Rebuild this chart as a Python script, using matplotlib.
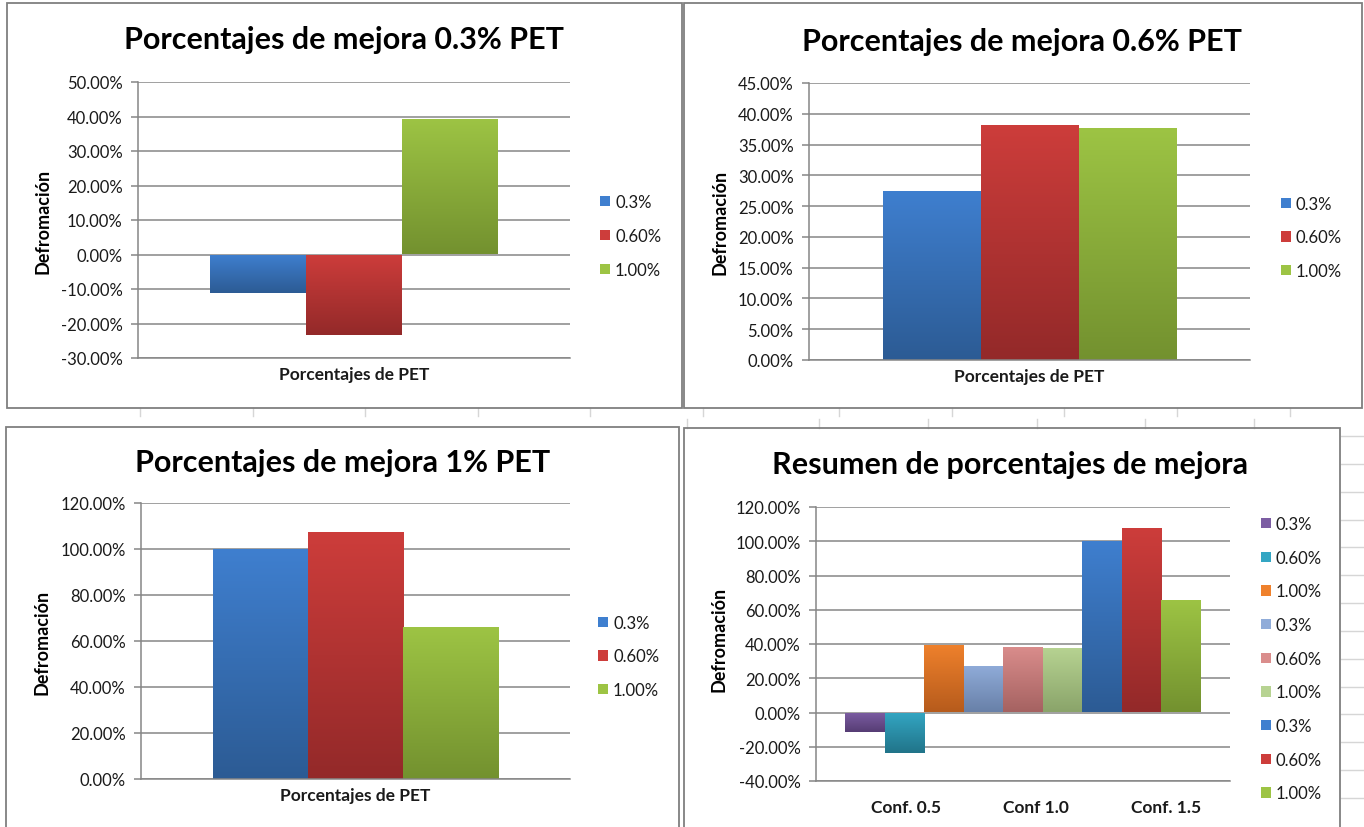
import numpy as np
import matplotlib
matplotlib.use("Agg")
import matplotlib.pyplot as plt
from matplotlib.colors import LinearSegmentedColormap
from matplotlib.patches import Rectangle
from matplotlib.lines import Line2D
from matplotlib.ticker import FuncFormatter

# ---------------- data ----------------
series_labels = ["0.3%", "0.60%", "1.00%"]
category_pet = ["Porcentajes de PET"]
mejora_03 = [-11.2, -23.4, 39.2]   # Porcentajes de mejora 0.3% PET
mejora_06 = [27.4, 38.2, 37.7]     # Porcentajes de mejora 0.6% PET
mejora_1 = [100.0, 107.6, 65.9]    # Porcentajes de mejora 1% PET
config_labels = ["Conf. 0.5", "Conf 1.0", "Conf. 1.5"]
summary_values = [mejora_03, mejora_06, mejora_1]
y_label = "Defromación"

# ---------------- style ----------------
plt.rcParams['font.family'] = ['Lato', 'DejaVu Sans']
W, H = 1364, 828
fig = plt.figure(figsize=(W / 100, H / 100), dpi=100)
fig.patch.set_facecolor('white')

GRID = '#868686'
TXT = '#1a1a1a'
# (top colour, bottom colour) gradients, Excel 2007 style
BASE = [('#3f7fcf', '#2c5b94'), ('#cd3d3b', '#932929'), ('#9dc444', '#73912f')]
LIGHT = [('#7c5da3', '#563d74'), ('#33a6c3', '#217489'), ('#ef812c', '#b65b1c'),
         ('#90acd9', '#6880a8'), ('#da8d8c', '#a56261'), ('#b7d392', '#8aa46a')]
SUMMARY_COLORS = LIGHT + BASE

TITLE_FS = 22
TICK_FS = 12
LEG_FS = 12
CAT_FS = 12.5
YLAB_FS = 13


def px_axes(l, t, r, b):
    return fig.add_axes([l / W, 1 - b / H, (r - l) / W, (b - t) / H])


def gradient_fill(ax, bars, colors):
    grad = np.linspace(0, 1, 256).reshape(-1, 1)
    for bar, (top, bottom) in zip(bars, colors):
        x, y = bar.get_x(), bar.get_y()
        w, h = bar.get_width(), bar.get_height()
        y0, y1 = min(y, y + h), max(y, y + h)
        cmap = LinearSegmentedColormap.from_list('g', [bottom, top])
        im = ax.imshow(grad, cmap=cmap, extent=[x, x + w, y0, y1], origin='lower',
                       aspect='auto', interpolation='bilinear', zorder=2)
        im.set_clip_path(bar)
        bar.set_facecolor('none')
        bar.set_edgecolor('none')


def style_axes(ax, ylim, step, xlim):
    ax.set_xlim(*xlim)
    ax.set_ylim(*ylim)
    ax.set_yticks(np.arange(ylim[0], ylim[1] + step / 2, step))
    ax.yaxis.set_major_formatter(FuncFormatter(lambda v, _: f"{v:.2f}%"))
    ax.grid(axis='y', color=GRID, lw=1.1)
    ax.set_axisbelow(True)
    for s in ['top', 'right']:
        ax.spines[s].set_visible(False)
    for s in ['left', 'bottom']:
        ax.spines[s].set_color(GRID)
        ax.spines[s].set_linewidth(1.1)
    ax.tick_params(axis='y', length=5, color=GRID, width=1.1, labelsize=TICK_FS, labelcolor=TXT, pad=6)
    ax.tick_params(axis='x', length=0, labelsize=CAT_FS, labelcolor=TXT)
    ax.set_facecolor('none')


def add_legend(ax, colors, labels, left, top, spacing):
    handles = [Rectangle((0, 0), 1, 1, facecolor=c[0]) for c in colors]
    leg = ax.legend(handles, labels, loc='upper left', bbox_to_anchor=(left / W, 1 - top / H),
                    bbox_transform=fig.transFigure, frameon=False, fontsize=LEG_FS,
                    handlelength=0.6, handleheight=0.6, handletextpad=0.3,
                    labelspacing=spacing, borderpad=0, borderaxespad=0)
    for t in leg.get_texts():
        t.set_color(TXT)


def single_panel(box, values, ylim, step, title, title_xy, ylab_x, leg):
    ax = px_axes(*box)
    width = 2 / 3 / 3
    xs = (np.arange(3) - 1) * width
    bars = ax.bar(xs, values, width=width, zorder=2)
    gradient_fill(ax, bars, BASE)
    style_axes(ax, ylim, step, (-0.5, 0.5))
    ax.set_xticks([0])
    ax.set_xticklabels(category_pet, fontweight='bold')
    ax.tick_params(axis='x', pad=6)
    ax.set_title(title, fontsize=TITLE_FS, fontweight='bold', x=title_xy[0], y=title_xy[1], va='center')
    ax.set_ylabel(y_label, fontsize=YLAB_FS, fontweight='bold')
    ax.yaxis.set_label_coords(ylab_x, 0.5)
    add_legend(ax, BASE, series_labels, *leg)
    return ax


single_panel((138, 83, 570, 359), mejora_03, (-30, 50), 10,
             "Porcentajes de mejora 0.3% PET", (0.477, 1.125), -0.20, (600, 195, 1.08))
single_panel((809, 84, 1250, 361), mejora_06, (0, 45), 5,
             "Porcentajes de mejora 0.6% PET", (0.484, 1.12), -0.183, (1281, 197, 1.05))
single_panel((141, 504, 570, 780), mejora_1, (0, 120), 20,
             "Porcentajes de mejora 1% PET", (0.469, 1.12), -0.21, (598, 616, 1.05))

# summary chart
ax = px_axes(816, 508, 1230, 782)
flat = [v for grp in summary_values for v in grp]
xs = np.arange(len(flat))
bars = ax.bar(xs, flat, width=1.0, zorder=2)
gradient_fill(ax, bars, SUMMARY_COLORS)
style_axes(ax, (-40, 120), 20, (-1.24, 9.24))
ax.set_xticks(np.array([1.04, 4.33, 7.62]))
ax.set_xticklabels(config_labels, fontweight='bold')
ax.tick_params(axis='x', pad=13)
ax.set_title("Resumen de porcentajes de mejora", fontsize=TITLE_FS, fontweight='bold',
             x=0.469, y=1.125, va='center')
ax.set_ylabel(y_label, fontsize=YLAB_FS, fontweight='bold')
ax.yaxis.set_label_coords(-0.213, 0.52)
add_legend(ax, SUMMARY_COLORS, series_labels * 3, 1261, 517, 1.06)

# faint spreadsheet cell lines behind the charts
CELL = '#d6d6d6'
for x in [140, 253, 365, 478, 590, 703, 839, 952, 1064, 1177, 1290]:
    fig.add_artist(Line2D([x / W, x / W], [1 - 409 / H, 1 - 417 / H], color=CELL, lw=1,
                          transform=fig.transFigure, zorder=0))
for x in [687, 819, 928, 1037, 1145, 1254]:
    fig.add_artist(Line2D([x / W, x / W], [1 - 420 / H, 1 - 429 / H], color=CELL, lw=1,
                          transform=fig.transFigure, zorder=0))
for y in [437, 465, 493, 521, 548, 576, 604, 632, 660, 688, 715, 743, 771, 799]:
    fig.add_artist(Line2D([1341 / W, 1364 / W], [1 - y / H, 1 - y / H], color=CELL, lw=1,
                          transform=fig.transFigure, zorder=0))

# chart frames
for l, t, r, b in [(7, 4, 682, 409), (684, 4, 1362, 409), (6, 428, 679, 832), (684, 429, 1340, 832)]:
    fig.add_artist(Rectangle((l / W, 1 - b / H), (r - l) / W, (b - t) / H,
                             transform=fig.transFigure, fill=False, edgecolor='#7f7f7f', lw=1.3))

fig.savefig('out.png', dpi=100)
